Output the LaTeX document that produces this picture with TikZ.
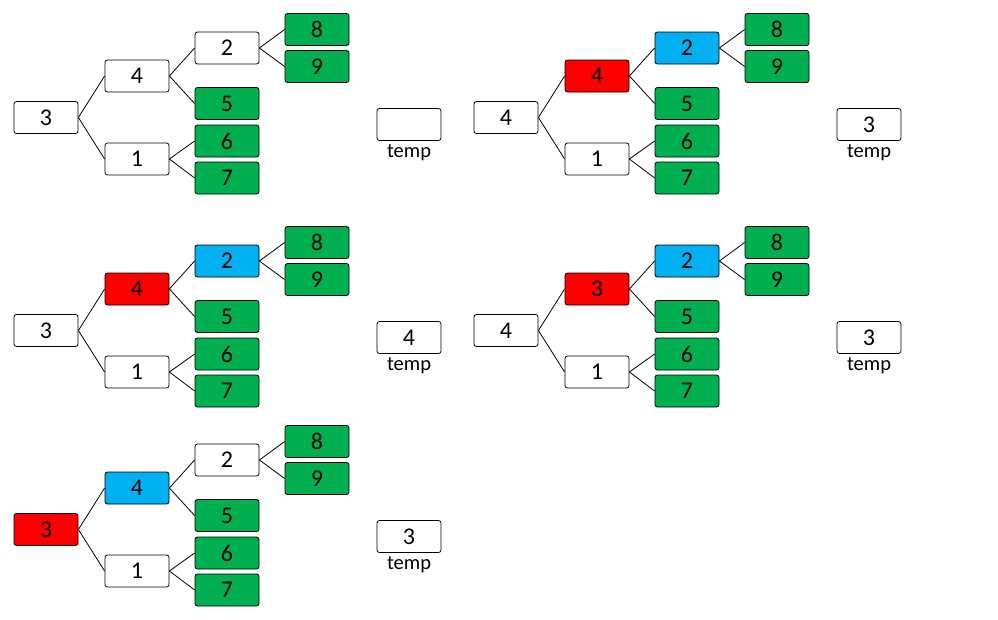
\documentclass[tikz,border=0pt]{standalone}
\usepackage{fontspec}
\setmainfont{Carlito}
\usepackage{tikz}
\definecolor{leafgreen}{HTML}{00B050}
\definecolor{curblue}{HTML}{00B0F0}
\definecolor{hotred}{HTML}{FF0000}
\tikzset{
	every path/.style = {line width=0.8pt},
	every node/.style = {draw, rectangle, rounded corners=2.5pt, fill=white,
		minimum width=64pt, minimum height=32pt, inner sep=0pt,
		font=\fontsize{24}{24}\selectfont}
}

% one heap picture: prefix, shift, root, root style, second, second style, style of 2, temp
\newcommand{\heaptree}[8]{
	\begin{scope}[shift={#2}]
	\node (#1r) [#4] at (46,117.5) {#3};
	\node (#1a) [#6] at (137,76) {#5};
	\node (#1b) at (137,159) {1};
	\node (#1c) [#7] at (227,48) {2};
	\node (#1d) [leaf] at (227,103.5) {5};
	\node (#1e) [leaf] at (227,141) {6};
	\node (#1f) [leaf] at (227,178) {7};
	\node (#1g) [leaf] at (317,29.5) {8};
	\node (#1h) [leaf] at (317,66.5) {9};
	\node (#1t) at (409,124.5) {#8};
	\node (#1l) [tmplabel] at (409,153) {temp};
	\draw (#1r.east) -- (#1a.west);
	\draw (#1r.east) -- (#1b.west);
	\draw (#1a.east) -- (#1c.west);
	\draw (#1a.east) -- (#1d.west);
	\draw (#1b.east) -- (#1e.west);
	\draw (#1b.east) -- (#1f.west);
	\draw (#1c.east) -- (#1g.west);
	\draw (#1c.east) -- (#1h.west);
	\end{scope}
}

\begin{document}
\begin{tikzpicture}[x=1pt, y=-1pt,
	leaf/.style={fill=leafgreen},
	hot/.style={fill=hotred},
	cur/.style={fill=curblue},
	plain/.style={fill=white},
	tmplabel/.style={draw=none, fill=none, minimum width=0pt, minimum height=0pt,
		font=\fontsize{20.5}{20.5}\selectfont}]
	\useasboundingbox (0,0) rectangle (998,619);
	\heaptree{p}{(0,0)}{3}{plain}{4}{plain}{plain}{}
	\heaptree{q}{(460,0)}{4}{plain}{4}{hot}{cur}{3}
	\heaptree{s}{(0,213)}{3}{plain}{4}{hot}{cur}{4}
	\heaptree{u}{(460,213)}{4}{plain}{3}{hot}{cur}{3}
	\heaptree{w}{(0,412)}{3}{hot}{4}{cur}{plain}{3}
\end{tikzpicture}
\end{document}
